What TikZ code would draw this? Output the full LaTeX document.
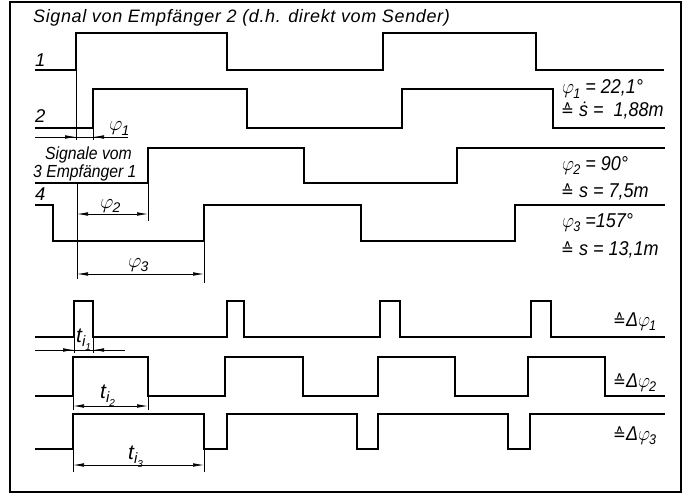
\documentclass[tikz,border=0pt]{standalone}
\usepackage{fontspec}
\setmainfont{Liberation Sans}
\newfontfamily\symfont{DejaVu Sans}
\usetikzlibrary{arrows.meta}
\newcommand{\corr}{{\symfont\upshape\fontsize{17}{17}\selectfont ≙}}
\newcommand{\vph}[1]{{\fontsize{22}{22}\selectfont$\varphi$}\kern-1pt\raisebox{-0.45ex}{\fontsize{14}{14}\selectfont#1}}
\newcommand{\tii}[1]{{\fontsize{21}{21}\selectfont t}\raisebox{-0.5ex}{\fontsize{15}{15}\selectfont i\raisebox{-0.4ex}{\fontsize{10}{10}\selectfont#1}}}
\newcommand{\nar}[1]{\scalebox{0.9}[1]{#1}}
\tikzset{
  sig/.style={line width=1.6pt, line join=miter},
  ext/.style={line width=0.8pt},
  dimline/.style={line width=0.7pt},
  tipr/.style={-{Latex[length=11pt,width=3.6pt]}, line width=0.7pt},
  tipb/.style={{Latex[length=11pt,width=3.6pt]}-{Latex[length=11pt,width=3.6pt]}, line width=0.7pt},
  lbl/.style={font=\fontsize{18.5}{20}\selectfont\itshape, inner sep=0pt, anchor=base west},
  val/.style={font=\fontsize{20}{22}\selectfont\itshape, inner sep=0pt, anchor=base west},
}
\begin{document}
\begin{tikzpicture}[x=1pt,y=-1pt]
\useasboundingbox (0,0) rectangle (684,497);
\draw[line width=1.3pt] (10,2) rectangle (681,492);
% title and row labels
\node[lbl, font=\fontsize{18}{20}\selectfont\itshape\addfontfeatures{LetterSpace=3.5}] (title) at (33,23) {Signal von Empfänger 2 (d.h. direkt vom Sender)};
\node[lbl] (l1) at (35,67) {1};
\node[lbl] (l2) at (35,123) {2};
\node[lbl, font=\fontsize{17.5}{20}\selectfont\itshape] (l3a) at (45,159) {\nar{Signale vom}};
\node[lbl, font=\fontsize{17.5}{20}\selectfont\itshape] (l3) at (33,177) {\nar{3 Empfänger 1}};
\node[lbl] (l4) at (35,200) {4};
% signals 1-4
\draw[sig] (35,70) -- (76,70) -- (76,33) -- (227,33) -- (227,70) -- (383,70) -- (383,33) -- (536,33) -- (536,70) -- (664,70);
\draw[sig] (35,128) -- (93,128) -- (93,89) -- (247,89) -- (247,128) -- (402,128) -- (402,89) -- (553,89) -- (553,128) -- (665,128);
\draw[sig] (35,183) -- (148,183) -- (148,148) -- (304,148) -- (304,183) -- (457,183) -- (457,148) -- (665,148);
\draw[sig] (35,205) -- (53,205) -- (53,241) -- (204,241) -- (204,205) -- (361,205) -- (361,241) -- (515,241) -- (515,205) -- (665,205);
% phi1 dimension
\draw[ext] (76,70) -- (76,140);
\draw[ext] (93,128) -- (93,140);
\draw[dimline] (35,137) -- (128,137);
\draw[tipr] (60,137) -- (76,137);
\draw[tipr] (109,137) -- (93,137);
\node[lbl] (p1) at (109,131) {\vph{1}};
% phi2, phi3 dimensions
\draw[ext] (77,183) -- (77,279);
\draw[ext] (148,183) -- (148,221);
\draw[ext] (204,241) -- (204,283);
\draw[tipb] (77,214) -- (148,214);
\node[lbl] (p2) at (100,208) {\vph{2}};
\draw[tipb] (77,274) -- (204,274);
\node[lbl] (p3) at (128,267) {\vph{3}};
% right-hand values
\node[val] (v1) at (562,94) {\nar{\vph{1} = 22,1°}};
\node[val] (s1) at (561,117) {\nar{\corr\ \.s\ = \ 1,88m}};
\node[val] (v2) at (562,170) {\nar{\vph{2} = 90°}};
\node[val] (s2) at (561,197) {\nar{\corr\ s =\ 7,5m}};
\node[val] (v3) at (562,227) {\nar{\vph{3} =157°}};
\node[val] (s3) at (561,255) {\nar{\corr\ s = 13,1m}};
% difference signals
\draw[sig] (35,337) -- (74,337) -- (74,301) -- (93,301) -- (93,337) -- (227,337) -- (227,301) -- (244,301) -- (244,337) -- (380,337) -- (380,301) -- (400,301) -- (400,337) -- (531,337) -- (531,301) -- (551,301) -- (551,337) -- (665,337);
\draw[sig] (35,396) -- (73,396) -- (73,357) -- (148,357) -- (148,396) -- (225,396) -- (225,357) -- (303,357) -- (303,396) -- (378,396) -- (378,357) -- (455,357) -- (455,396) -- (528,396) -- (528,357) -- (605,357) -- (605,396) -- (665,396);
\draw[sig] (35,449) -- (73,449) -- (73,414) -- (204,414) -- (204,449) -- (227,449) -- (227,414) -- (357,414) -- (357,449) -- (378,449) -- (378,414) -- (508,414) -- (508,449) -- (530,449) -- (530,414) -- (665,414);
\node[val] (d1) at (613,326) {\nar{\corr Δ\vph{1}}};
\node[val] (d2) at (613,387) {\nar{\corr Δ\vph{2}}};
\node[val] (d3) at (613,440) {\nar{\corr Δ\vph{3}}};
% t_i dimensions
\draw[ext] (74,337) -- (74,353);
\draw[ext] (93,337) -- (93,353);
\draw[dimline] (35,350) -- (125,350);
\draw[tipr] (57,350) -- (74,350);
\draw[tipr] (110,350) -- (93,350);
\node[lbl] (t1) at (76,342) {\tii{1}};
\draw[ext] (73,396) -- (73,410);
\draw[ext] (148,396) -- (148,410);
\draw[tipb] (73,406) -- (148,406);
\node[lbl] (t2) at (100,398) {\tii{2}};
\draw[ext] (73,449) -- (73,472);
\draw[ext] (204,449) -- (204,472);
\draw[tipb] (73,465) -- (204,465);
\node[lbl] (t3) at (128,459) {\tii{3}};
\end{tikzpicture}
\end{document}
